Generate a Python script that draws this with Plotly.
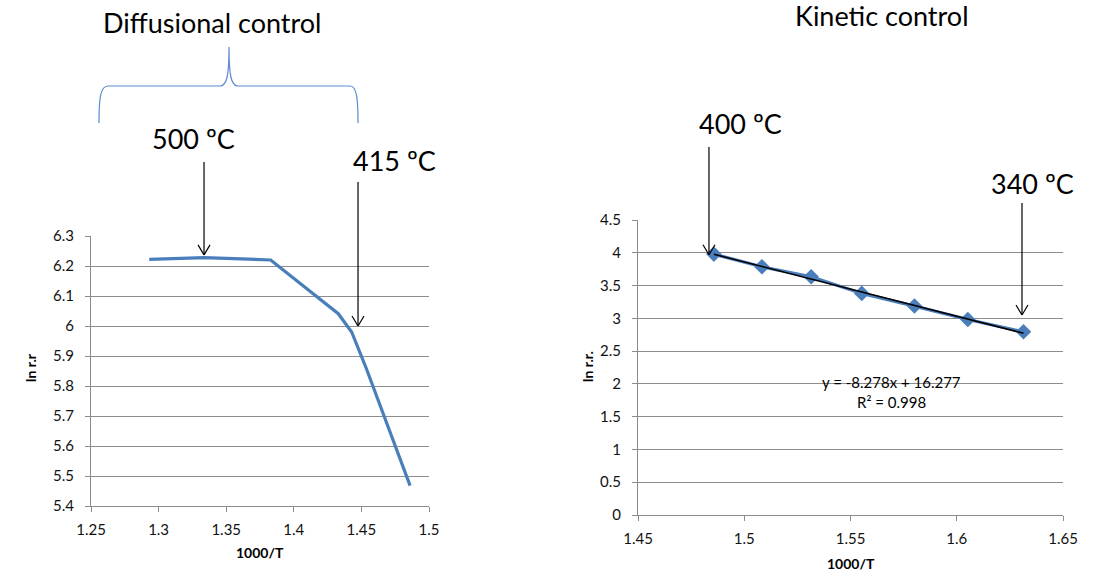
import plotly.graph_objects as go

W, H = 1093, 577

# Diffusional regime (high temperature)
diff_x = [1.2931, 1.3336, 1.3829, 1.4329, 1.4428, 1.4535, 1.4860]
diff_y = [6.222, 6.228, 6.220, 6.041, 5.980, 5.860, 5.468]

# Kinetic regime (low temperature)
kin_x = [1.4857, 1.5083, 1.5315, 1.5553, 1.5801, 1.6052, 1.6314]
kin_y = [3.980, 3.787, 3.634, 3.380, 3.187, 2.983, 2.795]

# Linear fit of the kinetic regime
fit_slope, fit_intercept, fit_r2 = -8.278, 16.277, 0.998

left_xticks = [1.25, 1.3, 1.35, 1.4, 1.45, 1.5]
left_yticks = [5.4, 5.5, 5.6, 5.7, 5.8, 5.9, 6.0, 6.1, 6.2, 6.3]
left_ylabels = ["5.4", "5.5", "5.6", "5.7", "5.8", "5.9", "6", "6.1", "6.2", "6.3"]
right_xticks = [1.45, 1.5, 1.55, 1.6, 1.65]
right_yticks = [0, 0.5, 1, 1.5, 2, 2.5, 3, 3.5, 4, 4.5]

BLUE = "#4A7EBB"
GRID = "#8C8C8C"
FONT = "Lato, Open Sans, sans-serif"
BIG = 27


def fx(px):
    """pixel x -> paper fraction"""
    return px / W


def fy(py):
    """pixel y (from top) -> paper fraction"""
    return 1 - py / H


# axis geometry
L_XDOM = [fx(91), fx(429)]
L_YDOM = [fy(506), fy(236)]
R_XDOM = [fx(638), fx(1063)]
R_YDOM = [fy(515), fy(220)]
L_XR, L_YR = [1.25, 1.5], [5.4, 6.3]
R_XR, R_YR = [1.45, 1.65], [0, 4.5]


def to_paper(x, y, xdom, ydom, xr, yr):
    px = xdom[0] + (x - xr[0]) / (xr[1] - xr[0]) * (xdom[1] - xdom[0])
    py = ydom[0] + (y - yr[0]) / (yr[1] - yr[0]) * (ydom[1] - ydom[0])
    return px, py


fit_x = [min(kin_x), max(kin_x)]
fit_y = [fit_slope * v + fit_intercept for v in fit_x]

fig = go.Figure()
fig.add_trace(go.Scatter(x=diff_x, y=diff_y, mode="lines",
                         line=dict(color=BLUE, width=3.2),
                         xaxis="x", yaxis="y", showlegend=False))
fig.add_trace(go.Scatter(x=kin_x, y=kin_y, mode="lines+markers",
                         line=dict(color=BLUE, width=3.2),
                         marker=dict(symbol="diamond", size=12, color=BLUE),
                         xaxis="x2", yaxis="y2", showlegend=False))
fig.add_trace(go.Scatter(x=fit_x, y=fit_y, mode="lines",
                         line=dict(color="black", width=1.5),
                         xaxis="x2", yaxis="y2", showlegend=False))

axis_common = dict(showline=True, linecolor=GRID, linewidth=1,
                   ticks="outside", tickcolor=GRID, ticklen=5,
                   tickfont=dict(family=FONT, size=15, color="#111"),
                   zeroline=False, fixedrange=True, automargin=False)
x_common = dict(ticklabelstandoff=5, **axis_common)
y_common = dict(ticklabelstandoff=8, **axis_common)

fig.update_layout(
    width=W, height=H,
    margin=dict(l=0, r=0, t=0, b=0, pad=0, autoexpand=False),
    paper_bgcolor="white", plot_bgcolor="white",
    xaxis=dict(domain=L_XDOM, range=L_XR, tickvals=left_xticks,
               ticktext=[f"{v:g}" for v in left_xticks], showgrid=False,
               anchor="y", **x_common),
    yaxis=dict(domain=L_YDOM, range=L_YR, tickvals=left_yticks,
               ticktext=left_ylabels, showgrid=True, gridcolor=GRID,
               gridwidth=1, anchor="x", **y_common),
    xaxis2=dict(domain=R_XDOM, range=R_XR, tickvals=right_xticks,
                ticktext=[f"{v:g}" for v in right_xticks], showgrid=False,
                anchor="y2", **x_common),
    yaxis2=dict(domain=R_YDOM, range=R_YR, tickvals=right_yticks,
                ticktext=[f"{v:g}" for v in right_yticks], showgrid=True,
                gridcolor=GRID, gridwidth=1, anchor="x2", **y_common),
)

ann = []
shapes = []


def text(px, py, s, size, bold=False, angle=0):
    ann.append(dict(x=fx(px), y=fy(py), xref="paper", yref="paper",
                    text=f"<b>{s}</b>" if bold else s, showarrow=False,
                    textangle=angle, xanchor="center", yanchor="middle",
                    font=dict(family=FONT, size=size, color="black")))


# headings and temperature labels
text(212, 23, "Diffusional control", BIG)
text(882, 15, "Kinetic control", BIG)
text(193, 139, "500 ºC", BIG)
text(394, 160, "415 ºC", BIG)
text(740, 124, "400 ºC", BIG)
text(1032, 183, "340 ºC", BIG)

# axis titles
text(260, 552, "1000/T", 14, bold=True)
text(851, 563, "1000/T", 14, bold=True)
text(31, 368, "ln r.r", 14, bold=True, angle=-90)
text(587, 367, "ln r.r.", 14, bold=True, angle=-90)

# fit equation
text(891, 382, f"y = {fit_slope}x + {fit_intercept}", 15)
text(891, 402, f"R² = {fit_r2}", 15)


def arrow(tip, start_py):
    tx, ty = tip
    shapes.append(dict(type="line", xref="paper", yref="paper",
                       x0=tx, y0=fy(start_py), x1=tx, y1=ty,
                       line=dict(color="black", width=1.2)))
    dx, dy = 6 / W, 10 / H
    for s in (-1, 1):
        shapes.append(dict(type="line", xref="paper", yref="paper",
                           x0=tx + s * dx, y0=ty + dy, x1=tx, y1=ty,
                           line=dict(color="black", width=1.2)))


arrow(to_paper(1.3336, 6.237, L_XDOM, L_YDOM, L_XR, L_YR), 162)
arrow(to_paper(1.4475, 6.0, L_XDOM, L_YDOM, L_XR, L_YR), 182)
arrow(to_paper(1.4834, 3.97, R_XDOM, R_YDOM, R_XR, R_YR), 147)
arrow(to_paper(1.6307, 3.05, R_XDOM, R_YDOM, R_XR, R_YR), 203)


def P(px, py):
    return f"{fx(px):.5f},{fy(py):.5f}"


# curly brace over the diffusional range
hy = 86
brace = (f"M {P(99, 123)} C {P(99, 100)} {P(100, hy)} {P(108, hy)} "
         f"L {P(220, hy)} C {P(227, hy)} {P(229, 75)} {P(229, 47)} "
         f"C {P(229, 75)} {P(231, hy)} {P(238, hy)} "
         f"L {P(350, hy)} C {P(357, hy)} {P(358, 100)} {P(358, 123)}")
shapes.append(dict(type="path", xref="paper", yref="paper", path=brace,
                   line=dict(color="#5B8BD0", width=1.2)))

fig.update_layout(annotations=ann, shapes=shapes)
fig.write_html("out.html")
